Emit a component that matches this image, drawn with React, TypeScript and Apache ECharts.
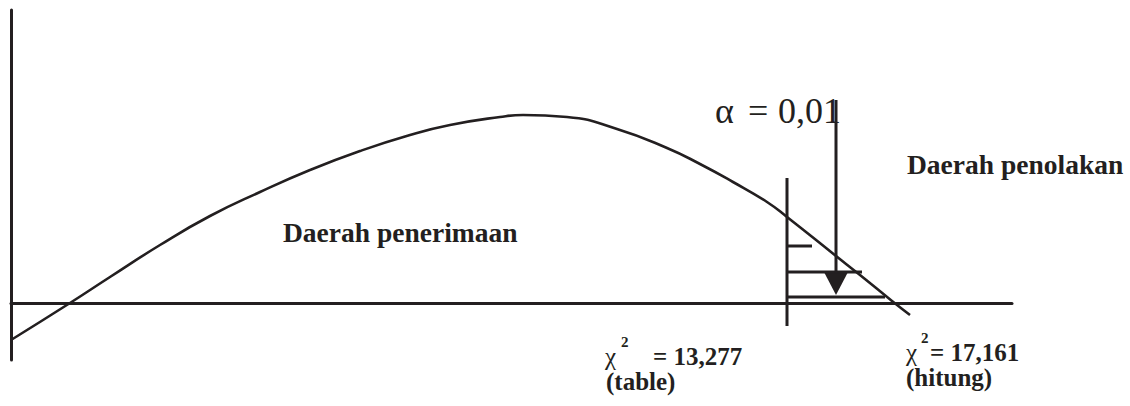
import React, { useEffect, useRef } from "react";
import * as echarts from "echarts";

// Schematic chi-square curve (horizontal units along the baseline, height above it)
const curveX = [0, 59, 99, 149, 199, 249, 299, 349, 399, 439, 489, 512, 556, 606, 656, 689, 722, 756, 776, 825, 849, 881, 899];
const curveY = [-37, 0, 26, 58, 87, 111, 133, 152, 168, 178, 186, 188, 186, 174, 155, 139, 121, 101, 86, 47, 28, 2, -12];

// Critical value (table) position and its marker line extent
const criticalX = 776;
const criticalSpan = [-23, 125];

// Hatch strokes in the rejection area: heights and right ends
const hatchY = [57, 31, 6];
const hatchEnd = [801, 851, 874];

// Alpha arrow: x position, shaft top/bottom, head centre
const arrowX = 825;
const arrowShaft = [203, 30];
const arrowHead = 19;

// Axis ranges
const xRange = [0, 1001];
const yRange = [-57, 293];

// Labels
const alphaParts = ["α", "=", "0,01"];
const acceptLabel = "Daerah penerimaan";
const rejectLabel = "Daerah penolakan";
const tableValue = "= 13,277";
const tableNote = "(table)";
const countValue = "= 17,161";
const countNote = "(hitung)";

const INK = "#231f20";
const SERIF = "Liberation Serif";

export default function App() {
  const ref = useRef<HTMLDivElement>(null);

  useEffect(() => {
    if (!ref.current) return;
    const chart = echarts.init(ref.current, undefined, { renderer: "svg" });

    const seg = (pts: number[][], width = 3) => ({
      type: "line",
      data: pts,
      showSymbol: false,
      silent: true,
      lineStyle: { color: INK, width },
    });

    const txt = (
      text: string,
      x: number,
      y: number,
      size: number,
      bold: boolean
    ) => ({
      type: "text",
      x,
      y,
      silent: true,
      style: {
        text,
        fill: INK,
        fontFamily: SERIF,
        fontSize: size,
        fontWeight: bold ? "bold" : "normal",
        lineHeight: size,
        verticalAlign: "middle",
      },
    });

    chart.setOption({
      animation: false,
      backgroundColor: "#ffffff",
      grid: { left: 11, top: 10, width: 1001, height: 350 },
      xAxis: {
        type: "value",
        min: xRange[0],
        max: xRange[1],
        axisLine: { show: true, onZero: true, lineStyle: { color: INK, width: 3 } },
        axisTick: { show: false },
        axisLabel: { show: false },
        splitLine: { show: false },
      },
      yAxis: {
        type: "value",
        min: yRange[0],
        max: yRange[1],
        axisLine: { show: true, onZero: true, lineStyle: { color: INK, width: 3 } },
        axisTick: { show: false },
        axisLabel: { show: false },
        splitLine: { show: false },
      },
      series: [
        {
          type: "line",
          data: curveX.map((x, i) => [x, curveY[i]]),
          smooth: 0.5,
          showSymbol: false,
          silent: true,
          lineStyle: { color: INK, width: 2.6 },
        },
        seg([
          [criticalX, criticalSpan[0]],
          [criticalX, criticalSpan[1]],
        ]),
        ...hatchY.map((h, i) =>
          seg([
            [criticalX, h],
            [hatchEnd[i], h],
          ])
        ),
        seg([
          [arrowX, arrowShaft[0]],
          [arrowX, arrowShaft[1]],
        ]),
        {
          type: "scatter",
          data: [[arrowX, arrowHead]],
          symbol: "triangle",
          symbolRotate: 180,
          symbolSize: [23, 22],
          silent: true,
          itemStyle: { color: INK, opacity: 1 },
        },
      ],
      graphic: [
        txt(alphaParts[0], 715, 111, 36, false),
        txt(alphaParts[1], 748, 111, 36, false),
        txt(alphaParts[2], 778, 111, 36, false),
        txt(acceptLabel, 283, 232, 27.5, true),
        txt(rejectLabel, 907, 164, 27.5, true),
        txt("χ", 605, 356, 25, false),
        txt("2", 621, 342, 15, true),
        txt(tableValue, 653, 356, 25, true),
        txt(tableNote, 606, 381.5, 25, true),
        txt("χ", 906, 352, 25, false),
        txt("2", 921, 338, 15, true),
        txt(countValue, 930, 352, 25, true),
        txt(countNote, 906, 377.5, 25, true),
      ],
    });

    return () => chart.dispose();
  }, []);

  return (
    <div
      ref={ref}
      style={{ position: "fixed", left: 0, top: 0, width: 1130, height: 406 }}
    />
  );
}
